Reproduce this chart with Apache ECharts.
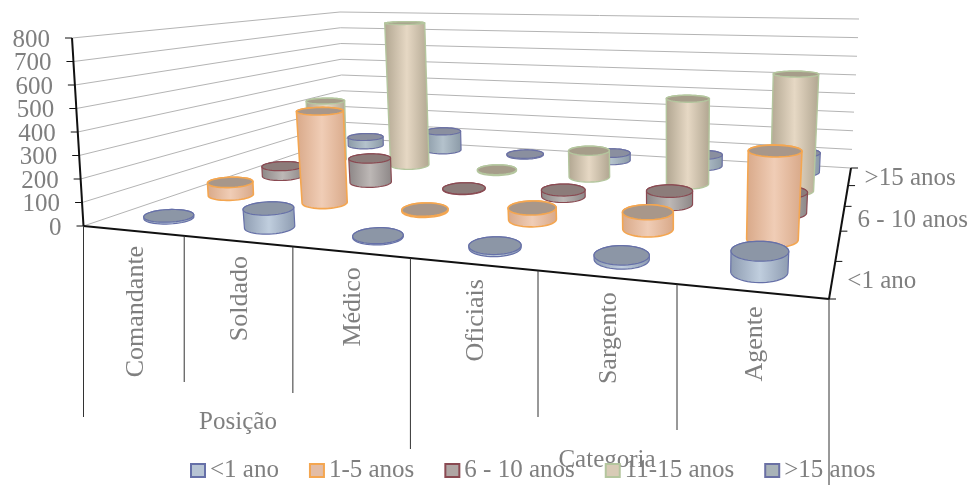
<!DOCTYPE html>
<html>
<head>
<meta charset="utf-8">
<style>html,body{margin:0;padding:0;background:#fff}#chart{width:972px;height:485px}</style>
<script src="https://cdn.jsdelivr.net/npm/echarts@6/dist/echarts.min.js"></script>
</head>
<body>
<div id="chart"></div>
<script>
// Effectives by position and length of service
const categories = ['Comandante', 'Soldado', 'Médico', 'Oficiais', 'Sargento', 'Agente'];
const serviceBands = ['<1 ano', '1-5 anos', '6 - 10 anos', '11-15 anos', '>15 anos'];
const depthLabels = ['<1 ano', '', '6 - 10 anos', '', '>15 anos'];
const yTicks = [0, 100, 200, 300, 400, 500, 600, 700, 800];
const groupLabels = ['Posição', 'Categoria'];

const under1 = [8, 78, 5, 8, 15, 75];
const from1to5 = [60, 425, 5, 50, 70, 355];
const from6to10 = [50, 120, 3, 30, 60, 90];
const from11to15 = [330, 780, 5, 135, 425, 565];
const over15 = [50, 110, 5, 40, 60, 100];
const bandValues = [under1, from1to5, from6to10, from11to15, over15];

// Look of each service band: side shading, lid colour, outline
const bandLook = [
  { edge: '#8d9bb0', mid: '#c0cede', lid: '#8c96a6', line: '#6670a8', icon: '#b7c4d4', width: 1.2 },
  { edge: '#d8a888', mid: '#f0cdb6', lid: '#a8978a', line: '#f4a650', icon: '#e3bda6', width: 1.6 },
  { edge: '#8c8686', mid: '#bdb8b6', lid: '#8c7c7a', line: '#8a4a52', icon: '#b0a6a4', width: 1.2 },
  { edge: '#b0a590', mid: '#e6d8c4', lid: '#a69d8a', line: '#b4c69e', icon: '#d8cbb6', width: 1.4 },
  { edge: '#8a99a6', mid: '#b4c2cc', lid: '#8a8f9f', line: '#6a70a4', icon: '#a9b3b8', width: 1.2 }
];

// Perspective box: floor and ceiling quads, in page pixels
const floorQuad = { fl: [83.5, 226], fr: [829, 299], br: [851, 168], bl: [343, 138] };
const ceilQuad = { fl: [72, 38], fr: [841.5, 59], br: [859, 19], bl: [340, 12] };
const cylinderRadius = 0.034;
const depthStretch = 1 / 0.587;
const rowNudge = 0.004;
const tickEnds = [417, 382, 393, 449, 417, 430, 485];

function quadMap(q) {
  const [x0, y0] = q.fl, [x1, y1] = q.fr, [x2, y2] = q.br, [x3, y3] = q.bl;
  const dx1 = x1 - x2, dx2 = x3 - x2, sx = x0 - x1 + x2 - x3;
  const dy1 = y1 - y2, dy2 = y3 - y2, sy = y0 - y1 + y2 - y3;
  const det = dx1 * dy2 - dx2 * dy1;
  const g = (sx * dy2 - dx2 * sy) / det, h = (dx1 * sy - sx * dy1) / det;
  const a = x1 - x0 + g * x1, b = x3 - x0 + h * x3, d = y1 - y0 + g * y1, e = y3 - y0 + h * y3;
  return (u, v) => {
    const k = g * u + h * v + 1;
    return [(a * u + b * v + x0) / k, (d * u + e * v + y0) / k];
  };
}
const floorAt = quadMap(floorQuad), ceilAt = quadMap(ceilQuad);
function project(u, v, w) {
  const f = floorAt(u, v), c = ceilAt(u, v);
  return [f[0] + (c[0] - f[0]) * w, f[1] + (c[1] - f[1]) * w];
}

function convexHull(points) {
  const p = points.slice().sort((a, b) => a[0] - b[0] || a[1] - b[1]);
  const cross = (o, a, b) => (a[0] - o[0]) * (b[1] - o[1]) - (a[1] - o[1]) * (b[0] - o[0]);
  const walk = list => {
    const out = [];
    for (const pt of list) {
      while (out.length > 1 && cross(out[out.length - 2], out[out.length - 1], pt) <= 0) out.pop();
      out.push(pt);
    }
    out.pop();
    return out;
  };
  return walk(p).concat(walk(p.reverse()));
}

// Circle on the level w, flattened so the ellipse stays close to horizontal
function ring(u, v, w) {
  const pts = [];
  for (let i = 0; i < 48; i++) {
    const t = i / 48 * Math.PI * 2;
    pts.push(project(u + Math.cos(t) * cylinderRadius, v + Math.sin(t) * cylinderRadius * depthStretch, w));
  }
  const c = project(u, v, w);
  let lo = pts[0], hi = pts[0];
  pts.forEach(p => { if (p[0] < lo[0]) lo = p; if (p[0] > hi[0]) hi = p; });
  const slope = (hi[1] - lo[1]) / (hi[0] - lo[0]);
  const squeeze = 1 - 0.7 * Math.abs(slope);
  return pts.map(p => {
    const dx = p[0] - c[0];
    return [c[0] + dx * squeeze, p[1] - 0.7 * slope * dx];
  });
}

// Cylinders: category axis gives u, value axis gives the height share, band index gives depth
function cylinderRenderer(bandIndex) {
  const look = bandLook[bandIndex];
  const v = (bandIndex + 0.5) / serviceBands.length + rowNudge * (bandIndex + 1);
  return function (params, api) {
    const rect = params.coordSys;
    const pt = api.coord([api.value(0), api.value(1)]);
    const u = (pt[0] - rect.x) / rect.width;
    const w = (rect.y + rect.height - pt[1]) / rect.height;
    const base = ring(u, v, 0), top = ring(u, v, w);
    return {
      type: 'group',
      children: [
        {
          type: 'polygon',
          shape: { points: convexHull(base.concat(top)) },
          style: {
            fill: {
              type: 'linear', x: 0, y: 0, x2: 1, y2: 0,
              colorStops: [
                { offset: 0, color: look.edge },
                { offset: 0.5, color: look.mid },
                { offset: 1, color: look.edge }
              ]
            },
            stroke: look.line, lineWidth: look.width
          }
        },
        {
          type: 'polygon',
          shape: { points: top },
          style: { fill: look.lid, stroke: look.line, lineWidth: look.width }
        }
      ]
    };
  };
}

const labelFont = { fontFamily: '"Liberation Serif", serif', fontSize: 25, fill: '#7f7f7f' };
const axisInk = '#111';
const seg = (a, b, stroke, lineWidth) => ({
  type: 'line', shape: { x1: a[0], y1: a[1], x2: b[0], y2: b[1] }, style: { stroke, lineWidth }
});
const text = (x, y, str, extra) => ({
  type: 'text', x, y,
  style: Object.assign({ text: str, verticalAlign: 'middle' }, labelFont, extra && extra.style),
  rotation: extra && extra.rotation || 0
});

// Walls, axes and all axis text
function frameRenderer(params, api) {
  const rect = params.coordSys;
  const out = [];
  yTicks.forEach(val => {
    const w = (rect.y + rect.height - api.coord([0, val])[1]) / rect.height;
    const fl = project(0, 0, w), bl = project(0, 1, w), br = project(1, 1, w);
    out.push(seg(fl, bl, '#b4b4b4', 1), seg(bl, br, '#b4b4b4', 1));
    out.push(seg(fl, [fl[0] - 7, fl[1]], axisInk, 1));
    out.push(text(fl[0] - 22, fl[1] + 2, String(val), { style: { align: 'right' } }));
  });
  out.push(seg(project(0, 0, 1), project(0, 0, 0), axisInk, 2));
  out.push(seg(project(0, 0, 0), project(1, 0, 0), axisInk, 2));
  out.push(seg(project(1, 0, 0), project(1, 1, 0), axisInk, 2));

  categories.forEach((name, j) => {
    const mid = project((j + 0.5) / categories.length, 0, 0);
    const left = project(j / categories.length, 0, 0), right = project((j + 1) / categories.length, 0, 0);
    const cx = (left[0] + right[0]) / 2 + 2;
    out.push(text(cx, mid[1] + 15, name, { rotation: Math.PI / 2, style: { align: 'right', fontSize: 26 } }));
  });
  tickEnds.forEach((end, j) => {
    const p = project(j / categories.length, 0, 0);
    out.push(seg(p, [p[0], end], '#333', 1));
  });
  out.push(text(238, 422, groupLabels[0], { style: { align: 'center' } }));
  out.push(text(607, 460, groupLabels[1], { style: { align: 'center' } }));

  for (let i = 0; i <= serviceBands.length; i++) {
    const p = project(1, i / serviceBands.length, 0);
    out.push(seg(p, [p[0] + 7, p[1]], axisInk, 1));
  }
  depthLabels.forEach((name, i) => {
    if (!name) return;
    const p = project(1, (i + 0.5) / depthLabels.length, 0);
    out.push(text(p[0] + 15, p[1] + 2, name, { style: { align: 'left' } }));
  });
  return { type: 'group', children: out };
}

const bandSeries = serviceBands.map((name, i) => ({
  name,
  type: 'custom',
  coordinateSystem: 'cartesian2d',
  renderItem: cylinderRenderer(i),
  encode: { x: 0, y: 1 },
  data: bandValues[i].map((val, j) => [j, val]),
  itemStyle: { color: bandLook[i].icon, borderColor: bandLook[i].line, borderWidth: 1.5 },
  clip: false,
  silent: true
})).reverse(); // the farthest row is painted first

const chart = echarts.init(document.getElementById('chart'), null, { renderer: 'canvas' });
chart.setOption({
  animation: false,
  backgroundColor: '#fff',
  grid: { left: 83, top: 38, width: 746, height: 188 },
  xAxis: { type: 'category', data: categories, show: false },
  yAxis: { type: 'value', min: 0, max: 800, interval: 100, show: false },
  legend: {
    data: serviceBands,
    left: 185, top: 453,
    icon: 'rect', itemWidth: 14, itemHeight: 13, itemGap: 30,
    textStyle: { fontFamily: '"Liberation Serif", serif', fontSize: 25, color: '#7f7f7f' }
  },
  series: [{
    name: 'frame',
    type: 'custom',
    coordinateSystem: 'cartesian2d',
    renderItem: frameRenderer,
    data: [[0, 0]],
    encode: { x: 0, y: 1 },
    clip: false,
    silent: true
  }].concat(bandSeries)
});
</script>
</body>
</html>
